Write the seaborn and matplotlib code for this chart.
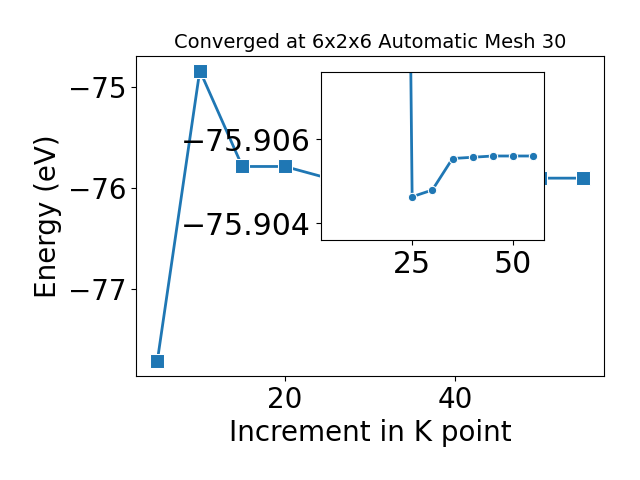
import numpy as np
import pandas as pd
import matplotlib
matplotlib.use("Agg")
import matplotlib.pyplot as plt
import seaborn as sns

# data
k_points = [5, 10, 15, 20, 25, 30, 35, 40, 45, 50, 55]
energy = [-77.72, -74.84, -75.79, -75.79, -75.9046, -75.9048,
          -75.9055, -75.9056, -75.9056, -75.9056, -75.9056]

inset_k = [20, 25, 30, 35, 40, 45, 50, 55]
inset_energy = [-75.95, -75.90463, -75.90479, -75.90554, -75.90557,
                -75.9056, -75.9056, -75.9056]

df = pd.DataFrame({'k': k_points, 'E': energy})
df_in = pd.DataFrame({'k': inset_k, 'E': inset_energy})

fig = plt.figure(figsize=(6.4, 4.8), dpi=100)
ax = fig.add_axes([0.2125, 0.2167, 0.731, 0.6667])

sns.lineplot(data=df, x='k', y='E', marker='s', markersize=10,
             linewidth=2, color='#1f77b4', ax=ax)
ax.set_xticks([20, 40])
ax.set_yticks([-75, -76, -77])
ax.tick_params(labelsize=20)
ax.set_xlabel('Increment in K point', fontsize=20)
ax.set_ylabel('Energy (eV)', fontsize=20)
ax.set_title('Converged at 6x2x6 Automatic Mesh 30', fontsize=14)

# inset zoom on the converged part
axin = fig.add_axes([0.501, 0.5, 0.349, 0.35])
sns.lineplot(data=df_in, x='k', y='E', marker='o', markersize=6,
             linewidth=2, color='#1f77b4', ax=axin)
axin.set_xlim(2.33, 57.67)
axin.set_ylim(-75.9036, -75.9076)
axin.set_xticks([25, 50])
axin.set_yticks([-75.906, -75.904])
axin.ticklabel_format(axis='y', useOffset=False)
axin.tick_params(labelsize=21.5)
axin.set_xlabel('')
axin.set_ylabel('')

fig.savefig('out.png', dpi=100)
